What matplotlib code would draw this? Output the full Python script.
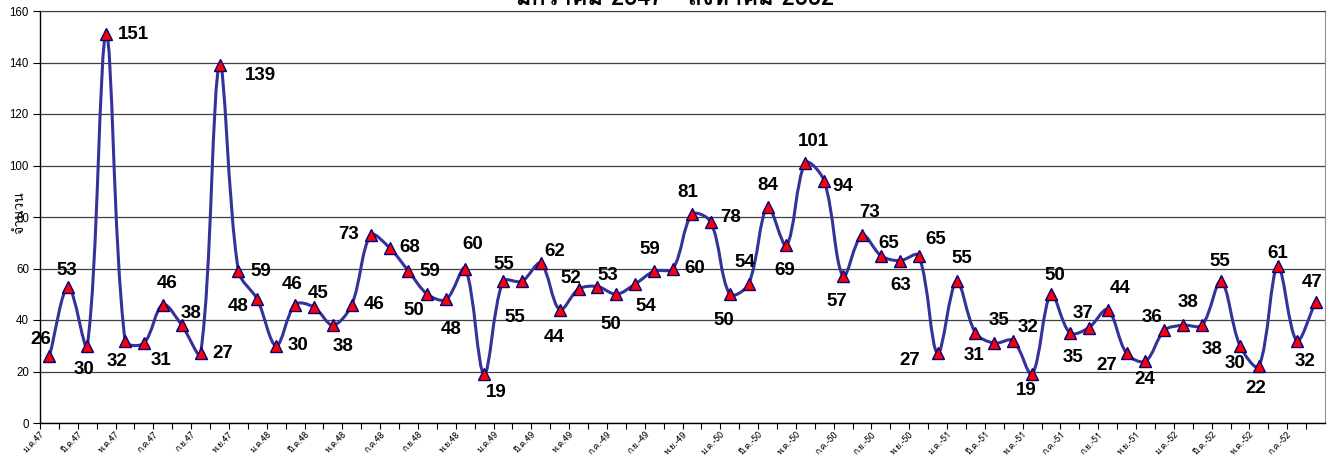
import numpy as np
import matplotlib
matplotlib.use('Agg')
from matplotlib import pyplot as plt
from matplotlib import font_manager
from matplotlib.ft2font import FT2Font
from matplotlib.path import Path
from matplotlib.patches import PathPatch

# monthly counts, ม.ค.47 .. ส.ค.52
values = [26, 53, 30, 151, 32, 31, 46, 38, 27, 139, 59, 48,
          30, 46, 45, 38, 46, 73, 68, 59, 50, 48, 60, 19,
          55, 55, 62, 44, 52, 53, 50, 54, 59, 60, 81, 78,
          50, 54, 84, 69, 101, 94, 57, 73, 65, 63, 65, 27,
          55, 35, 31, 32, 19, 50, 35, 37, 44, 27, 24, 36,
          38, 38, 55, 30, 22, 61, 32, 47]

tick_labels = ['ม.ค.47', 'มี.ค.47', 'พ.ค.47', 'ก.ค.47', 'ก.ย.47', 'พ.ย.47',
               'ม.ค.48', 'มี.ค.48', 'พ.ค.48', 'ก.ค.48', 'ก.ย.48', 'พ.ย.48',
               'ม.ค.49', 'มี.ค.49', 'พ.ค.49', 'ก.ค.-49', 'ก.ย.-49', 'พ.ย.-49',
               'ม.ค.-50', 'มี.ค.-50', 'พ.ค.-50', 'ก.ค.-50', 'ก.ย.-50', 'พ.ย.-50',
               'ม.ค.-51', 'มี.ค.-51', 'พ.ค.-51', 'ก.ค.-51', 'ก.ย.-51', 'พ.ย.-51',
               'ม.ค.-52', 'มี.ค.-52', 'พ.ค.-52', 'ก.ค.-52']

title = 'มกราคม 2547 - สิงหาคม 2552'
y_label = 'จำนวน'

# where each value label sits relative to its marker (pixels, +y = down)
label_offsets = [(-9, -17), (-2, -16), (-3, 24), (27, 0), (-8, 21), (17, 17),
                 (4, -21), (9, -12), (22, 0), (41, 10), (22, 0), (-19, 7),
                 (22, 0), (-3, -20), (4, -14), (10, 21), (22, 0), (-22, -1),
                 (20, 0), (21, 0), (-14, 16), (5, 30), (8, -24), (12, 18),
                 (1, -17), (-7, 36), (14, -12), (-6, 28), (-8, -11), (10, -11),
                 (-6, 30), (11, 23), (-4, -22), (22, 0), (-4, -22), (20, -5),
                 (-6, 26), (-4, -21), (0, -21), (-2, 25), (8, -21), (19, 6),
                 (-6, 25), (8, -23), (8, -12), (1, 25), (17, -16), (-28, 7),
                 (5, -23), (24, -12), (-20, 12), (15, -13), (-6, 16), (4, -19),
                 (3, 25), (-6, -14), (12, -21), (-20, 12), (-1, 18), (-12, -13),
                 (5, -23), (10, 24), (-1, -20), (-5, 18), (-3, 22), (0, -12),
                 (8, 21), (-3, -19)]


def find_thai_font():
    for f in font_manager.fontManager.ttflist:
        try:
            if 0x0E01 in FT2Font(f.fname).get_charmap():
                return f.name
        except Exception:
            pass
    return 'DejaVu Sans'


def smooth_path(xs, ys, sx, sy):
    """Excel-like smoothed line, tangents weighted by segment length
    (lengths measured in pixels, sx / sy = pixels per data unit)"""
    pts = np.column_stack([xs, ys]).astype(float)
    scale = np.array([sx, sy])
    ext = np.vstack([pts[0], pts, pts[-1]])
    verts = [pts[0]]
    codes = [Path.MOVETO]
    for k in range(len(pts) - 1):
        p0, p1, p2, p3 = ext[k], ext[k + 1], ext[k + 2], ext[k + 3]
        d01 = np.hypot(*((p1 - p0) * scale))
        d12 = np.hypot(*((p2 - p1) * scale))
        d23 = np.hypot(*((p3 - p2) * scale))
        w1 = d12 / (d01 + d12) if d01 + d12 > 0 else 0.5
        w2 = d12 / (d12 + d23) if d12 + d23 > 0 else 0.5
        verts += [p1 + (p2 - p0) * w1 / 3, p2 - (p3 - p1) * w2 / 3, p2]
        codes += [Path.CURVE4] * 3
    return Path(verts, codes)


thai = find_thai_font()
fams = [thai, 'Liberation Sans', 'DejaVu Sans']
plt.rcParams['font.family'] = ['Liberation Sans', thai, 'DejaVu Sans']

fig = plt.figure(figsize=(13.34, 4.57), dpi=100)
ax = fig.add_axes([40 / 1334, 34 / 457, 1285 / 1334, 412 / 457])

x = np.arange(len(values))
ax.add_patch(PathPatch(smooth_path(x, values, 1285 / len(values), 412 / 160),
                       fill=False, edgecolor='#333399', lw=2.2, zorder=3))
ax.plot(x, values, ls='none', marker='^', ms=8.5, mfc='#ff0000',
        mec='#000080', mew=1.0, zorder=4)

for xi, v, (dx, dy) in zip(x, values, label_offsets):
    ax.annotate(str(v), (xi, v), xytext=(dx * 0.72, -dy * 0.72),
                textcoords='offset points', ha='center', va='center',
                fontsize=13.5, fontweight='bold', zorder=5)

ax.set_xlim(-0.5, len(values) - 0.5)
ax.set_ylim(0, 160)
ax.set_yticks(np.arange(0, 161, 20))
ax.tick_params(axis='y', labelsize=8.3, length=5, width=0.8, pad=3)
ax.grid(axis='y', color='#404040', lw=0.9)
ax.set_axisbelow(True)

major = np.arange(-0.5, len(values) - 1, 2)
ax.set_xticks(major)
ax.set_xticklabels(tick_labels, rotation=45, ha='right',
                   rotation_mode='anchor', fontsize=6.3, family=fams)
ax.set_xticks(np.arange(0.5, len(values), 2), minor=True)
ax.tick_params(axis='x', which='both', length=4, width=0.8, pad=1)

for s in ['left', 'bottom']:
    ax.spines[s].set_color('black')
    ax.spines[s].set_linewidth(1.0)
ax.spines['right'].set_color('#909090')
ax.spines['top'].set_color('#404040')

ax.set_ylabel(y_label, fontsize=10, family=fams, va='center')
ax.yaxis.set_label_coords(-20 / 1285, 0.51)

fig.text(675 / 1334, 1 - 5 / 457, title, ha='center', va='baseline',
         fontsize=17, fontweight='bold', family=fams)

fig.savefig('out.png', dpi=100)
